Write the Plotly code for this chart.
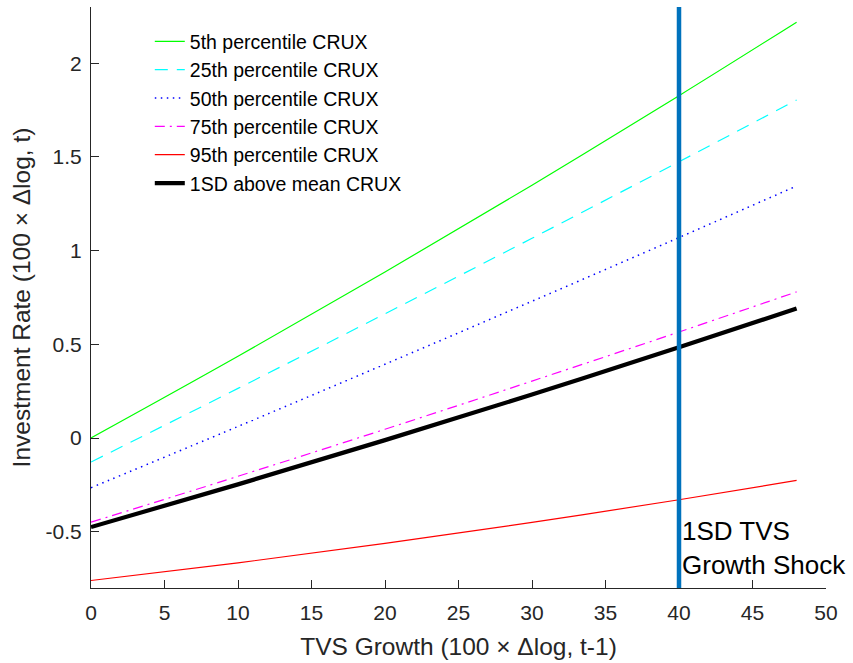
import plotly.graph_objects as go

# Data
tvs_growth = [0, 10, 20, 30, 40, 48]
p5 = [0.000, 0.436, 0.886, 1.349, 1.827, 2.219]
p25 = [-0.128, 0.265, 0.663, 1.066, 1.474, 1.804]
p50 = [-0.265, 0.062, 0.394, 0.730, 1.070, 1.345]
p75 = [-0.449, -0.204, 0.047, 0.304, 0.566, 0.780]
p95 = [-0.760, -0.666, -0.562, -0.450, -0.329, -0.226]
sd1 = [-0.475, -0.247, -0.011, 0.232, 0.484, 0.691]
shock_x = 40
series_names = ["5th percentile CRUX", "25th percentile CRUX", "50th percentile CRUX",
                "75th percentile CRUX", "95th percentile CRUX", "1SD above mean CRUX"]
x_ticks = [0, 5, 10, 15, 20, 25, 30, 35, 40, 45, 50]
y_ticks = [-0.5, 0, 0.5, 1, 1.5, 2]
y_tick_text = ["-0.5", "0", "0.5", "1", "1.5", "2"]

FONT = "Liberation Sans, Arial, sans-serif"
AX = "#262626"

styles = [
    dict(color="#00FF00", width=1.2, dash="solid"),
    dict(color="#00FFFF", width=1.2, dash="13px,9px"),
    dict(color="#0000FF", width=1.5, dash="1.5px,4.5px"),
    dict(color="#FF00FF", width=1.2, dash="10px,5px,2px,5px"),
    dict(color="#FF0000", width=1.2, dash="solid"),
    dict(color="#000000", width=4.2, dash="solid"),
]

fig = go.Figure()
for name, ys, st in zip(series_names, [p5, p25, p50, p75, p95, sd1], styles):
    fig.add_trace(go.Scatter(x=tvs_growth, y=ys, mode="lines", name=name,
                             line=dict(shape="spline", **st)))

fig.add_vline(x=shock_x, line=dict(color="#0072BD", width=4.5), layer="above")
fig.add_annotation(x=shock_x, xref="x", y=-0.8, yref="y", xanchor="left", yanchor="bottom",
                   xshift=1, yshift=6, showarrow=False, align="left",
                   text="1SD TVS<br>Growth Shock",
                   font=dict(family=FONT, size=26, color="#000000"))

fig.update_layout(
    width=853, height=663,
    margin=dict(l=91, r=27, t=7, b=75, autoexpand=False),
    paper_bgcolor="white", plot_bgcolor="white",
    font=dict(family=FONT, size=20, color=AX),
    showlegend=True,
    legend=dict(x=0.08, y=0.974, xanchor="left", yanchor="top",
                bgcolor="rgba(0,0,0,0)", borderwidth=0,
                font=dict(family=FONT, size=19.5, color="#000000"),
                tracegroupgap=0),
)
fig.update_xaxes(range=[0, 50], tickvals=x_ticks, ticks="inside", ticklen=8,
                 tickcolor=AX, showline=True, linecolor=AX, linewidth=1,
                 showgrid=False, zeroline=False, mirror=False, automargin=False,
                 title=dict(text="TVS Growth (100 × Δlog, t-1)", font=dict(size=24.5), standoff=14),
                 tickfont=dict(size=21), ticklabelstandoff=6)
fig.update_yaxes(range=[-0.8, 2.3], tickvals=y_ticks, ticktext=y_tick_text, ticks="inside",
                 ticklen=8, tickcolor=AX, showline=True, linecolor=AX, linewidth=1,
                 showgrid=False, zeroline=False, mirror=False, automargin=False,
                 title=dict(text="Investment Rate (100 × Δlog, t)", font=dict(size=24.5), standoff=8),
                 tickfont=dict(size=21), ticklabelstandoff=4)

fig.write_html("out.html", config={"displayModeBar": False},
               post_script="document.body.style.margin='0';document.body.style.padding='0';")
